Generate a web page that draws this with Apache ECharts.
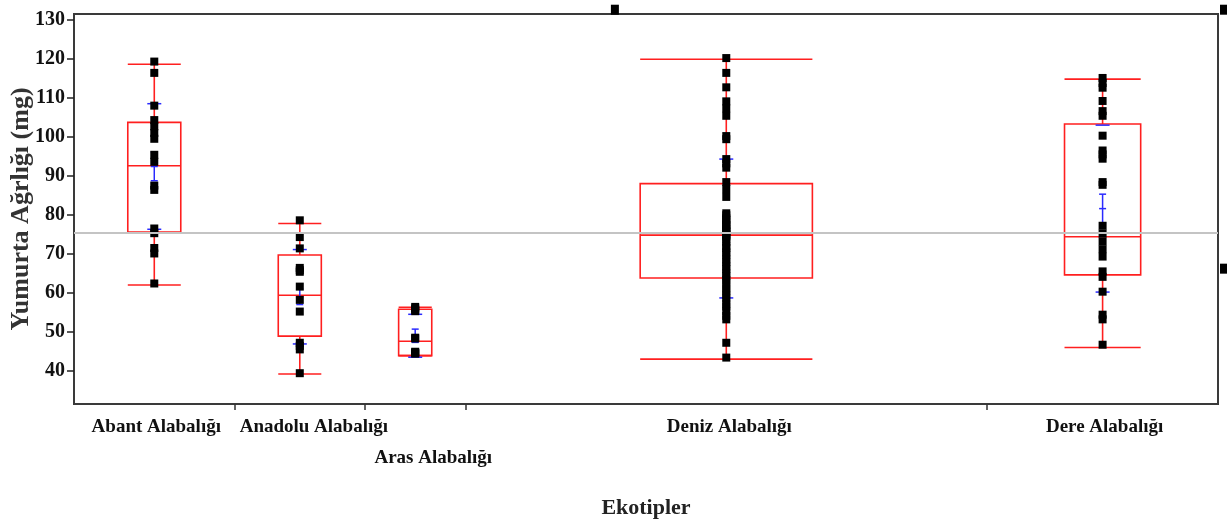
<!DOCTYPE html>
<html><head><meta charset="utf-8">
<script src="https://cdn.jsdelivr.net/npm/echarts@6/dist/echarts.min.js"></script>
<style>html,body{margin:0;padding:0;background:#fff}#chart{width:1227px;height:525px}</style>
</head><body><div id="chart"></div>
<script>
// ---------- data ----------
const categories = ['Abant Alabalığı', 'Anadolu Alabalığı', 'Aras Alabalığı', 'Deniz Alabalığı', 'Dere Alabalığı'];
const yAxisTitle = 'Yumurta Ağrlığı (mg)';
const xAxisTitle = 'Ekotipler';
const yTickValues = [40, 50, 60, 70, 80, 90, 100, 110, 120, 130];

const abantValues = [119.3, 116.4, 108.0, 104.3, 102.7, 101.0, 99.5, 95.4, 93.6, 87.5, 86.4, 76.5, 75.3, 71.5, 70.1, 62.4];
const anadoluValues = [78.6, 74.3, 71.4, 66.4, 65.8, 65.4, 61.6, 58.2, 55.2, 47.2, 46.4, 45.5, 39.4];
const arasValues = [56.4, 56.0, 55.6, 55.3, 48.5, 48.3, 44.9, 44.7, 44.6, 44.4];
const denizValues = [120.2, 116.4, 112.7, 109.1, 107.3, 105.4, 100.2, 99.4, 94.3, 93.2, 92.1, 88.4, 86.6, 84.6,
  80.4, 79.9, 79.1, 78.7, 78.0, 77.4, 77.1, 76.5, 75.9, 75.7, 75.1, 74.9,
  74.5, 73.9, 73.1, 72.0, 71.5, 70.4, 69.8, 68.6, 67.9, 66.8, 66.1, 65.0, 64.3,
  63.3, 62.5, 61.2, 60.5, 59.3, 58.6, 57.2, 56.5, 55.3, 54.1, 53.2, 47.2, 43.4];
const dereValues = [115.1, 113.8, 112.6, 109.2, 106.6, 105.4, 100.3, 96.5, 95.5, 94.4, 88.4, 87.7,
  77.2, 75.2, 73.2, 71.2, 69.3, 65.5, 64.1, 60.3, 54.4, 53.2, 46.7];

// box plot statistics
const boxMin    = [62.0, 39.2, 43.9, 43.0, 46.0];
const boxQ1     = [75.6, 48.9, 43.9, 63.8, 64.6];
const boxMedian = [92.6, 59.4, 47.6, 74.8, 74.4];
const boxQ3     = [103.7, 69.7, 55.8, 88.0, 103.3];
const boxMax    = [118.6, 77.8, 56.3, 119.9, 114.8];
// means, std dev and std error (blue marks)
const groupMean   = [92.4, 59.0, 49.0, 76.5, 81.6];
const groupStdDev = [16.1, 12.1, 5.5, 17.8, 21.4];
const groupStdErr = [3.65, 2.0, 1.7, 2.5, 3.7];
const grandMean = 75.3;
// stray markers drawn outside the frame
const offFramePoints = [[53.9, 132.6], [114.6, 132.6], [114.6, 66.2]];

// ---------- layout ----------
const groupValues = [abantValues, anadoluValues, arasValues, denizValues, dereValues];
const counts = groupValues.map(a => a.length);
const total = counts.reduce((s, n) => s + n, 0);
const bounds = [];
let acc = 0;
const centers = counts.map(n => { const c = acc + n / 2; acc += n; bounds.push(acc); return c; });
const innerBounds = bounds.slice(0, -1);
const labelShift = [0.2, 1.4, 1.8, 0.3, 0.2];
const labelPos = centers.map((c, i) => c + labelShift[i]);
const boxRatio = 0.33;

const serif = 'Liberation Serif, Times New Roman, serif';
const RED = '#ff1f1f';
const BLUE = '#2a2aff';

function renderBox(params, api) {
  const i = api.value(3);
  const c = centers[i];
  const half = counts[i] * boxRatio / 2;
  const xL = api.coord([c - half, 0])[0];
  const xR = api.coord([c + half, 0])[0];
  const xc = api.coord([c, 0])[0];
  const y = v => api.coord([c, v])[1];
  const red = { stroke: RED, lineWidth: 1.6, fill: null };
  const blue = { stroke: BLUE, lineWidth: 1.5, fill: null };
  const line = (x1, y1, x2, y2, st) => ({ type: 'line', shape: { x1, y1, x2, y2 }, style: st });
  const m = groupMean[i], sd = groupStdDev[i], se = groupStdErr[i];
  return {
    type: 'group',
    children: [
      line(xc, y(boxQ3[i]), xc, y(boxMax[i]), red),
      line(xc, y(boxQ1[i]), xc, y(boxMin[i]), red),
      line(xL, y(boxMax[i]), xR, y(boxMax[i]), red),
      line(xL, y(boxMin[i]), xR, y(boxMin[i]), red),
      { type: 'rect', shape: { x: xL, y: y(boxQ3[i]), width: xR - xL, height: y(boxQ1[i]) - y(boxQ3[i]) }, style: red },
      line(xL, y(boxMedian[i]), xR, y(boxMedian[i]), red),
      line(xc - 7, y(m + sd), xc + 7, y(m + sd), blue),
      line(xc - 7, y(m - sd), xc + 7, y(m - sd), blue),
      line(xc, y(m + se), xc, y(m - se), blue),
      line(xc - 3.5, y(m + se), xc + 3.5, y(m + se), blue),
      line(xc - 3.5, y(m - se), xc + 3.5, y(m - se), blue),
      line(xc - 3.5, y(m), xc + 3.5, y(m), blue)
    ]
  };
}

const pointData = [];
groupValues.forEach((arr, i) => arr.forEach(v => pointData.push([centers[i], v])));

const chart = echarts.init(document.getElementById('chart'), null, { renderer: 'canvas' });
chart.setOption({
  animation: false,
  backgroundColor: '#fff',
  grid: { left: 74, right: 9, top: 14, bottom: 121, containLabel: false, outerBoundsMode: 'none',
    show: true, borderColor: '#3a3a3a', borderWidth: 2, backgroundColor: 'transparent' },
  xAxis: {
    type: 'value', min: 0, max: total,
    name: xAxisTitle, nameLocation: 'middle', nameGap: 93, nameMoveOverlap: false,
    nameTextStyle: { fontFamily: serif, fontWeight: 'bold', fontSize: 22, color: '#222' },
    splitLine: { show: false },
    axisLine: { show: true, lineStyle: { color: '#3a3a3a', width: 2 } },
    axisTick: { show: true, customValues: innerBounds, length: 6, lineStyle: { color: '#333', width: 1.5 } },
    axisLabel: {
      customValues: labelPos, margin: 8, lineHeight: 31,
      fontFamily: serif, fontWeight: 'bold', fontSize: 19, color: '#111',
      formatter: v => {
        let k = 0, best = Infinity;
        labelPos.forEach((p, j) => { const d = Math.abs(p - v); if (d < best) { best = d; k = j; } });
        return k === 2 ? '\n' + categories[k] : categories[k];
      }
    }
  },
  yAxis: {
    type: 'value', min: 31.5, max: 131.5,
    name: yAxisTitle, nameLocation: 'middle', nameGap: 40, nameRotate: 90, nameMoveOverlap: false,
    nameTextStyle: { fontFamily: serif, fontWeight: 'bold', fontSize: 26, color: '#333' },
    splitLine: { show: false },
    axisLine: { show: true, lineStyle: { color: '#3a3a3a', width: 2 } },
    axisTick: { show: true, inside: false, customValues: yTickValues, length: 7, lineStyle: { color: '#222', width: 1.5 } },
    axisLabel: { customValues: yTickValues, margin: 9, fontFamily: serif, fontWeight: 'bold', fontSize: 20, color: '#111' }
  },
  series: [
    {
      type: 'line', data: [], z: 1,
      markLine: { silent: true, symbol: 'none', label: { show: false },
        lineStyle: { color: '#c4c4c4', width: 2, type: 'solid' },
        data: [{ yAxis: grandMean }] }
    },
    {
      type: 'custom', z: 2, renderItem: renderBox,
      encode: { x: 0, y: [1, 2] },
      data: categories.map((_, i) => [centers[i], boxMin[i], boxMax[i], i])
    },
    {
      type: 'scatter', z: 3, symbol: 'rect', symbolSize: [8, 8],
      itemStyle: { color: '#000', opacity: 1 }, data: pointData
    },
    {
      type: 'scatter', z: 3, symbol: 'rect', symbolSize: [8, 10], clip: false,
      itemStyle: { color: '#000', opacity: 1 }, data: offFramePoints
    }
  ]
});
</script></body></html>
